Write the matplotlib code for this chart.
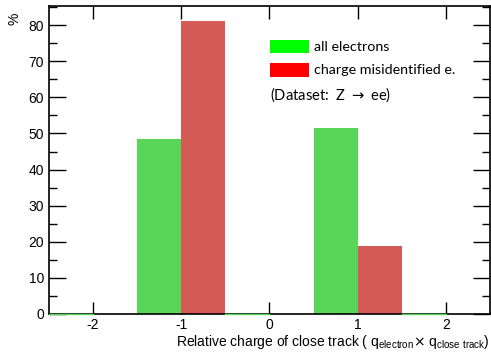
import matplotlib.pyplot as plt
from matplotlib.patches import Rectangle
from matplotlib.ticker import MultipleLocator

plt.rcParams['axes.unicode_minus'] = False
fz = 10

# relative charge bins (width 0.5, from -2.5 to 2.5)
all_left = [-1.5, 0.5]
all_vals = [48.5, 51.6]
mis_left = [-1.0, 1.0]
mis_vals = [81.2, 18.7]
bin_w = 0.5

# zero-height bins of the green histogram drawn as an outline
zero_bins = [(-2.5, -2.0), (-0.5, 0.0), (1.5, 2.0)]

c_all = '#59d657'
c_mis = '#d45a56'

fig = plt.figure(figsize=(4.91, 3.56), dpi=100)
ax = fig.add_axes([0.0998, 0.118, 0.898, 0.865])

ax.bar(all_left, all_vals, width=bin_w, align='edge', color=c_all, linewidth=0, zorder=2)
ax.bar(mis_left, mis_vals, width=bin_w, align='edge', color=c_mis, linewidth=0, zorder=2)
for x0, x1 in zero_bins:
    ax.plot([x0, x1], [0, 0], color=c_all, linewidth=1.0, zorder=4, clip_on=False)

ax.set_xlim(-2.5, 2.5)
ax.set_ylim(0, 85.3)
ax.xaxis.set_major_locator(MultipleLocator(1))
ax.yaxis.set_major_locator(MultipleLocator(10))
ax.yaxis.set_minor_locator(MultipleLocator(5))
ax.tick_params(which='both', direction='in', top=True, right=True, labelsize=fz, width=1)
ax.tick_params(axis='x', which='major', length=9, pad=3)
ax.tick_params(axis='y', which='major', length=12)
ax.tick_params(axis='y', which='minor', length=6)
for s in ax.spines.values():
    s.set_linewidth(1.2)

for lab in ax.get_xticklabels() + ax.get_yticklabels():
    lab.set_family('Liberation Sans')

# legend drawn by hand in axes coordinates
lf = 'Lato'
ax.add_patch(Rectangle((0.502, 0.846), 0.088, 0.044, transform=ax.transAxes,
                       color='#00ff00', linewidth=0, zorder=5))
ax.add_patch(Rectangle((0.502, 0.771), 0.088, 0.044, transform=ax.transAxes,
                       color='#ff0000', linewidth=0, zorder=5))
ax.text(0.600, 0.868, 'all electrons', transform=ax.transAxes, fontsize=fz + 0.3,
        va='center', ha='left', family=lf)
ax.text(0.600, 0.793, 'charge misidentified e.', transform=ax.transAxes, fontsize=fz + 0.3,
        va='center', ha='left', family=lf)
ax.text(0.502, 0.713, r'(Dataset:  Z $\rightarrow$ ee)', transform=ax.transAxes,
        fontsize=fz + 0.6, va='center', ha='left', family=lf)

fig.text(0.997, 0.040,
         r'Relative charge of close track ( q$_{\mathregular{electron}}$$\times$'
         r' q$_{\mathregular{close\ track}}$)',
         ha='right', va='center', fontsize=fz, family='Liberation Sans')
fig.text(0.030, 0.948, '%', rotation=90, ha='center', va='center',
         fontsize=fz, family='Liberation Sans')

plt.savefig('out.png', dpi=100)
plt.close()
